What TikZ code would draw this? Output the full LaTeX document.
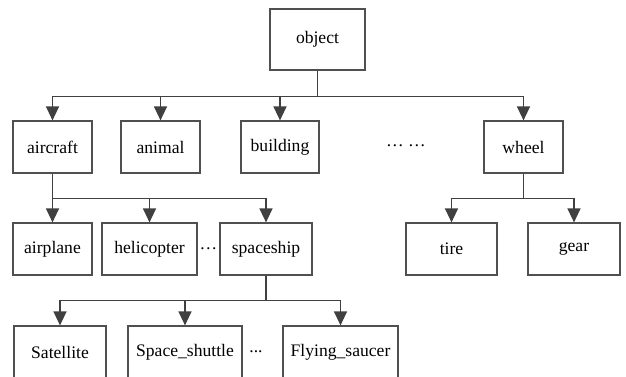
\documentclass[tikz,border=0pt]{standalone}
\usepackage{fontspec}
\setmainfont{Liberation Serif}
\newfontfamily\treefont{Liberation Serif}
\usetikzlibrary{arrows.meta}
\definecolor{linec}{HTML}{404040}
\definecolor{boxc}{HTML}{505050}
\begin{document}
\begin{tikzpicture}[x=1pt,y=-1pt,
  box/.style={draw=boxc,line width=1.2pt,minimum height=52pt,inner sep=0pt,
    font=\treefont\fontsize{17.6}{20}\selectfont,text=black},
  tip/.tip={Triangle[length=14pt,width=13pt]},
  link/.style={draw=linec,line width=1.3pt,-tip},
  dots/.style={font=\treefont\fontsize{17.6}{20}\selectfont,text=black,inner sep=0pt}]
\useasboundingbox (0,0) rectangle (626,376);
\clip (0,0) rectangle (626,376);
% top level
\node[box,minimum width=95pt,minimum height=61pt] (object) at (317.5,39.5) {object};
% second level
\node[box,minimum width=79pt] (aircraft) at (52.5,147) {aircraft};
\node[box,minimum width=79pt] (animal) at (160.5,147) {animal};
\node[box,minimum width=78pt] (building) at (280,147) {building};
\node[dots] (more1) at (406,146) {… …};
\node[box,minimum width=79pt] (wheel) at (523.5,147) {wheel};
% third level
\node[box,minimum width=79pt] (airplane) at (52.5,249) {airplane};
\node[box,minimum width=95pt] (helicopter) at (149.5,249) {helicopter};
\node[dots] (more2) at (208.5,249) {…};
\node[box,minimum width=92pt] (spaceship) at (266,249) {spaceship};
\node[box,minimum width=91pt] (tire) at (451.5,249) {tire};
\node[box,minimum width=92pt] (gear) at (574,249) {gear};
% fourth level
\node[box,minimum width=92pt] (satellite) at (60,352) {Satellite};
\node[box,minimum width=114pt] (shuttle) at (185,352) {Space\_shuttle};
\node[dots] (more3) at (256,352) {...};
\node[box,minimum width=115pt] (saucer) at (340.5,352) {Flying\_saucer};
% connectors
\foreach \c in {aircraft,animal,building,wheel}
  \draw[link] (object.south) -- ++(0,26) -| (\c.north);
\foreach \c in {airplane,helicopter,spaceship}
  \draw[link] (aircraft.south) -- ++(0,25) -| (\c.north);
\foreach \c in {tire,gear}
  \draw[link] (wheel.south) -- ++(0,25) -| (\c.north);
\foreach \c in {satellite,shuttle,saucer}
  \draw[link] (spaceship.south) -- ++(0,25) -| (\c.north);
\end{tikzpicture}
\end{document}
